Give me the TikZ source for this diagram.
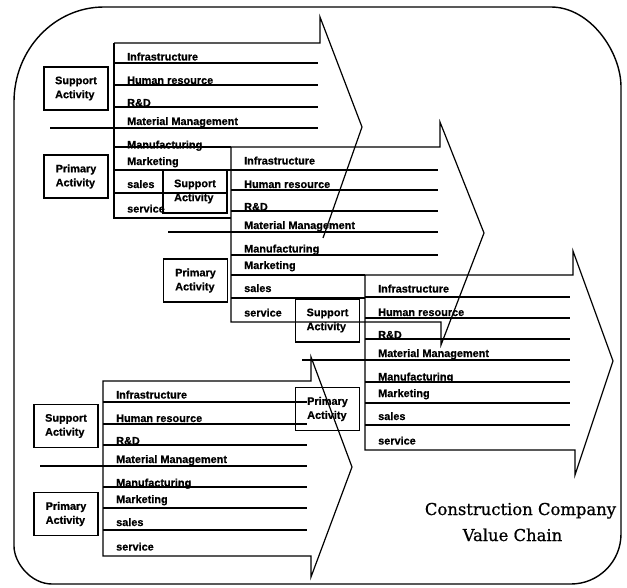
\documentclass[tikz,border=0pt]{standalone}
\usepackage{fontspec}
\setmainfont{Liberation Sans}
\newfontfamily\rowfont{Liberation Sans}[FakeBold=0.6]
\newfontfamily\titlefont{DejaVu Serif}[FakeBold=0.8]
\tikzset{
  frame/.style={line width=1.4pt, line join=round},
  chainline/.style={line width=1.2pt, line join=miter},
  rowtext/.style={anchor=base west, inner sep=0pt, font=\rowfont\fontsize{10.9}{13}\selectfont\bfseries},
  actbox/.style={draw, line width=1.2pt, minimum width=64pt, minimum height=43pt, inner sep=0pt, align=left, font=\rowfont\fontsize{10.9}{14}\selectfont\bfseries},
  titletext/.style={inner sep=0pt, anchor=base, font=\titlefont\fontsize{16.4}{20}\selectfont},
}
\newcommand\chainlabels[3]{%
  \foreach \lab/\dy [count=\i] in {Infrastructure/17.5, Human resource/41, R\&D/63.5, Material Management/82, Manufacturing/105.5, Marketing/122, sales/145, service/169.5}
    \node[rowtext] (#1r\i) at (#2+13, #3+\dy) {\lab};
}
\begin{document}
\begin{tikzpicture}[x=1pt, y=-1pt]
\useasboundingbox (0,0) rectangle (627,588);

% outer frame
\draw[frame] (14,102) .. controls (14,49.5) and (54.3,7) .. (104,7)
  -- (551,7) .. controls (589.7,7) and (621,51.2) .. (621,87)
  -- (621,534) .. controls (621,561.6) and (598.6,584) .. (571,584)
  -- (52,584) .. controls (31,584) and (14,563) .. (14,546) -- cycle;

\begin{scope}[chainline]
% chain 1
\draw (114,43) -- (320,43) -- (320,17) -- (362,127) -- (323,238);
\draw (114,43) -- (114,218) -- (231,218);
\foreach \y in {63,85,107} \draw (114,\y) -- (318,\y);
\draw (50,128) -- (318,128);
\draw (114,147) -- (231,147);
\draw (114,170) -- (231,170);
\draw (114,193) -- (228,193);

% chain 2
\draw (231,147) -- (440,147) -- (440,122) -- (484,233) -- (441,345) -- (441,322) -- (231,322) -- cycle;
\foreach \y in {170,190,211,255} \draw (231,\y) -- (438,\y);
\draw (168,232) -- (438,232);
\draw (231,275) -- (365,275);
\draw (231,298) -- (365,298);

% chain 3
\draw (365,275) -- (573,275) -- (573,251) -- (613,361) -- (575,475) -- (575,450) -- (365,450) -- cycle;
\foreach \y in {297,318,339,382,403,425} \draw (365,\y) -- (570,\y);
\draw (302,360) -- (570,360);

% chain 4
\draw (103,381) -- (311,381) -- (311,357) -- (352,467) -- (311,577) -- (311,556) -- (103,556) -- cycle;
\foreach \y in {402,424,445,487,508,530} \draw (103,\y) -- (307,\y);
\draw (40,466) -- (307,466);
\end{scope}

% row labels
\chainlabels{c1}{114}{43}
\chainlabels{c2}{231}{147}
\chainlabels{c3}{365}{275}
\chainlabels{c4}{103}{381}

% activity boxes
\node[actbox] (s1) at (76,88.5) {Support\\Activity};
\node[actbox] (p1) at (76,176.5) {Primary\\Activity};
\node[actbox] (s2) at (195,191.5) {Support\\Activity};
\node[actbox] (p2) at (195.5,280.5) {Primary\\Activity};
\node[actbox] (s3) at (327.5,320.5) {Support\\Activity};
\node[actbox] (p3) at (327.5,409) {Primary\\Activity};
\node[actbox] (s4) at (66,426) {Support\\Activity};
\node[actbox] (p4) at (66,514) {Primary\\Activity};

% title
\node[titletext] (t1) at (520.5,515) {Construction Company};
\node[titletext] (t2) at (512.5,541) {Value Chain};
\end{tikzpicture}
\end{document}
